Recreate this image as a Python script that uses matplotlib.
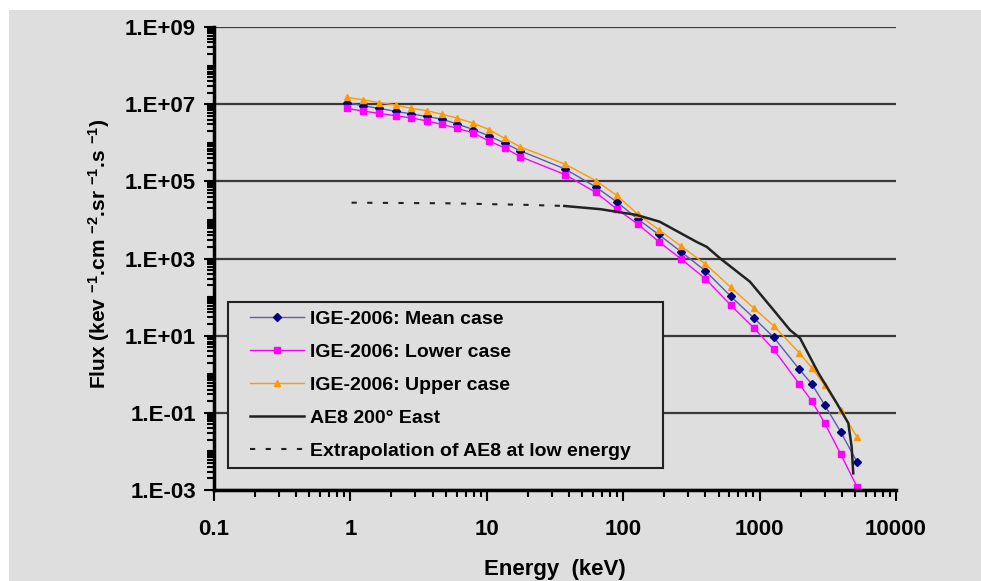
import matplotlib
matplotlib.use('Agg')
import matplotlib.pyplot as plt
import matplotlib.ticker as mticker
from matplotlib.patches import Rectangle
import numpy as np

plt.rcParams['font.family'] = ['Liberation Sans', 'DejaVu Sans']
plt.rcParams['font.weight'] = 'bold'
plt.rcParams['axes.labelweight'] = 'bold'
plt.rcParams['mathtext.fontset'] = 'custom'
plt.rcParams['mathtext.rm'] = 'Liberation Sans:bold'
plt.rcParams['mathtext.it'] = 'Liberation Sans:bold'
plt.rcParams['mathtext.bf'] = 'Liberation Sans:bold'

# Energías (keV) de los puntos IGE-2006
energia = [0.94, 1.24, 1.62, 2.15, 2.78, 3.62, 4.67, 6.0, 7.96, 10.4, 13.5, 17.5,
           37.4, 62.8, 90, 128, 182, 265, 400, 614, 905, 1268, 1953, 2420,
           3000, 3933, 5200]

flujo_medio = [1.1e7, 9.1e6, 7.8e6, 6.5e6, 5.6e6, 4.8e6, 4.1e6, 3.1e6, 2.2e6, 1.5e6,
               9.8e5, 6.2e5, 2.1e5, 7.2e4, 2.9e4, 1.05e4, 4.2e3, 1.5e3, 4.8e2, 1.05e2,
               29, 9.1, 1.35, 0.55, 0.16, 0.032, 0.0052]

flujo_bajo = [7.8e6, 6.6e6, 5.8e6, 5.0e6, 4.4e6, 3.7e6, 3.0e6, 2.4e6, 1.8e6, 1.1e6,
              7.4e5, 4.4e5, 1.5e5, 5.2e4, 1.9e4, 7.8e3, 2.75e3, 9.8e2, 3.0e2, 62,
              16, 4.4, 0.56, 0.2, 0.054, 0.0085, 0.00117]

flujo_alto = [1.5e7, 1.3e7, 1.1e7, 9.5e6, 7.8e6, 6.8e6, 5.5e6, 4.4e6, 3.2e6, 2.2e6,
              1.3e6, 7.9e5, 2.8e5, 1.05e5, 4.3e4, 1.4e4, 5.6e3, 2.1e3, 7.2e2, 1.8e2,
              52, 18, 3.6, 1.45, 0.52, 0.12, 0.023]

# AE8 200° Este
energia_ae8 = [37, 68, 125, 185, 345, 410, 515, 850, 1260, 1670, 1980, 2700, 3670,
               4470, 4730, 4860]
flujo_ae8 = [2.3e4, 1.9e4, 1.35e4, 9.0e3, 2.7e3, 2.0e3, 1.0e3, 2.5e2, 47, 14, 8.6,
             1.07, 0.18, 0.054, 0.013, 0.0027]

# Extrapolación de AE8 a baja energía
energia_ext = [1.02, 5, 20, 37]
flujo_ext = [2.8e4, 2.7e4, 2.45e4, 2.3e4]

etiquetas_x = ['0.1', '1', '10', '100', '1000', '10000']
exponentes_y = [-3, -1, 1, 3, 5, 7, 9]
etiquetas_y = ['1.E-03', '1.E-01', '1.E+01', '1.E+03', '1.E+05', '1.E+07', '1.E+09']
gris = '#dedede'

fig = plt.figure(figsize=(9.81, 5.81), dpi=100, facecolor='white')
fig.patches.append(Rectangle((9 / 981, 0), 1, 1 - 10 / 581, transform=fig.transFigure,
                             facecolor=gris, edgecolor='none', zorder=-10))

ax = fig.add_axes([214 / 981, 1 - 490 / 581, 682 / 981, 463 / 581])
ax.set_facecolor('none')

ax.plot(energia, flujo_medio, color='#5a5ab8', lw=1, marker='D', ms=4,
        mfc='#000080', mec='#000080', label='IGE-2006: Mean case')
ax.plot(energia, flujo_bajo, color='#ff00ff', lw=1, marker='s', ms=4.5,
        label='IGE-2006: Lower case')
ax.plot(energia, flujo_alto, color='#ff9900', lw=1, marker='^', ms=5,
        label='IGE-2006: Upper case')
ax.plot(energia_ae8, flujo_ae8, color='#222222', lw=1.8, label='AE8 200° East')
ax.plot(energia_ext, flujo_ext, color='#222222', lw=1.5, dashes=(2.5, 5),
        label='Extrapolation of AE8 at low energy')

ax.set_xscale('log')
ax.set_yscale('log')
ax.set_xlim(0.1, 10000)
ax.set_ylim(1e-3, 1e9)

ax.xaxis.set_major_locator(mticker.FixedLocator([0.1, 1, 10, 100, 1000, 10000]))
ax.xaxis.set_major_formatter(mticker.FixedFormatter(etiquetas_x))
ax.xaxis.set_minor_locator(mticker.LogLocator(base=10, subs=np.arange(2, 10), numticks=20))
ax.xaxis.set_minor_formatter(mticker.NullFormatter())

ax.yaxis.set_major_locator(mticker.FixedLocator([10.0 ** k for k in exponentes_y]))
ax.yaxis.set_major_formatter(mticker.FixedFormatter(etiquetas_y))
ax.yaxis.set_minor_locator(mticker.LogLocator(base=10, subs=np.arange(1, 10), numticks=30))
ax.yaxis.set_minor_formatter(mticker.NullFormatter())

ax.grid(axis='y', which='major', color='#3a3a3a', lw=1.6)
ax.set_axisbelow(True)

for s in ['top', 'right']:
    ax.spines[s].set_visible(False)
for s in ['left', 'bottom']:
    ax.spines[s].set_linewidth(2.5)
    ax.spines[s].set_color('black')

ax.tick_params(axis='x', which='major', direction='out', length=8, width=1.5,
               labelsize=16, pad=13)
ax.tick_params(axis='x', which='minor', direction='out', length=5, width=1.5)
ax.tick_params(axis='y', which='major', direction='out', length=7, width=1.5,
               labelsize=16, pad=6)
ax.tick_params(axis='y', which='minor', direction='out', length=5, width=1.5)

ax.set_xlabel('Energy  (keV)', fontsize=16)
ax.xaxis.set_label_coords(0.5, -0.148)
ax.set_ylabel('Flux (kev $^{-1}$.cm $^{-2}$.sr $^{-1}$.s $^{-1}$)', fontsize=15)
ax.yaxis.set_label_coords(-0.15, 0.51)

# Marco de la leyenda dibujado a mano
fig.patches.append(Rectangle((228 / 981, 1 - 468 / 581), 435 / 981, 166 / 581,
                             transform=fig.transFigure, facecolor=gris,
                             edgecolor='#222222', lw=1.5, zorder=5))
leg = fig.legend(loc='upper left', bbox_to_anchor=(250 / 981, 1 - 310 / 581),
                 fontsize=14, frameon=False, borderaxespad=0, borderpad=0,
                 handlelength=2.8, labelspacing=0.8, handletextpad=0.3)
leg.set_zorder(6)

fig.savefig('out.png', dpi=100, facecolor='white')
